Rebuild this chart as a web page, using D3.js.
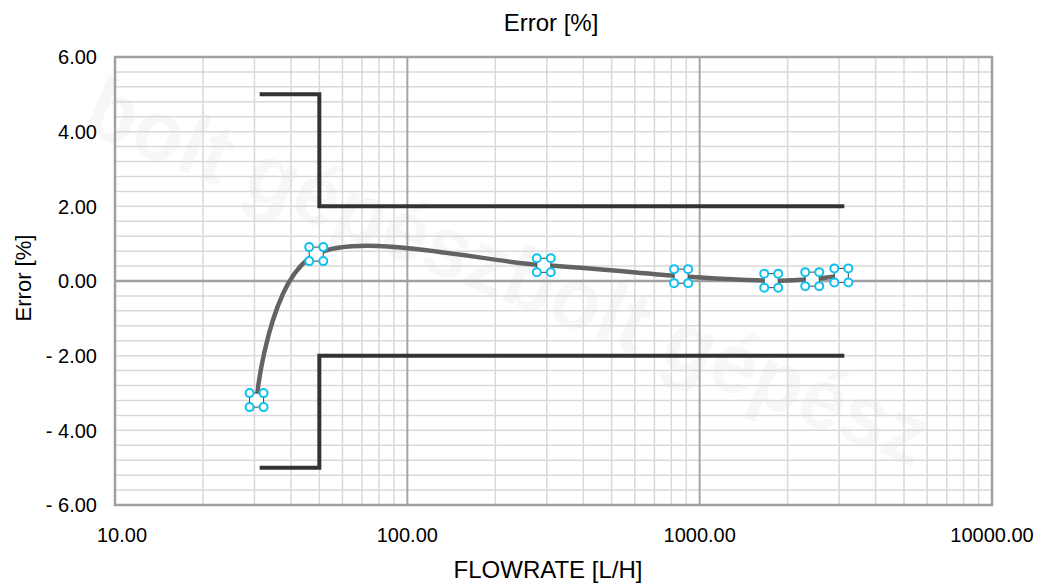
<!DOCTYPE html>
<html>
<head>
<meta charset="utf-8">
<script src="https://cdn.jsdelivr.net/npm/d3@7"></script>
<style>
  body { margin: 0; background: #fff; }
  svg { display: block; font-family: "Liberation Sans", Arial, sans-serif; }
</style>
</head>
<body>
<svg id="chart"></svg>
<script>
(function (d3) {
    'use strict';

    // measured points
    var flowRates = [30.5, 48.8, 293, 864, 1757, 2427, 3052];
    var errors = [-3.19, 0.72, 0.42, 0.13, 0.01, 0.05, 0.15];

    // error limits (MPE)
    var limitFlows = [31.25, 50, 50, 3125];
    var upperLimit = [5, 5, 2, 2];
    var lowerLimit = [-5, -5, -2, -2];

    var xTickValues = [10, 100, 1000, 10000];
    var yTickValues = [6, 4, 2, 0, -2, -4, -6];

    var width = 1043,
        height = 584,
        margin = { top: 57, right: 51, bottom: 79, left: 115 };

    var x = d3.scaleLog().domain([10, 10000]).range([margin.left, width - margin.right]),
        y = d3.scaleLinear().domain([-6, 6]).range([height - margin.bottom, margin.top]);

    var svg = d3.select('#chart')
        .attr('width', width)
        .attr('height', height);

    // faint background watermark
    svg.append('text')
        .attr('transform', 'translate(' + 80 + ',' + 130 + ') rotate(22)')
        .attr('font-size', 86)
        .attr('font-weight', 'bold')
        .attr('textLength', 900)
        .attr('lengthAdjust', 'spacingAndGlyphs')
        .attr('fill', '#000')
        .attr('fill-opacity', 0.03)
        .text('bolt gépészbolt gépész');

    var grid = svg.append('g');

    // horizontal minor grid every 0.4
    grid.selectAll('line.hgrid')
        .data(d3.range(-6, 6.001, 0.4))
        .enter()
        .append('line')
        .attr('class', 'hgrid')
        .attr('x1', x(10)).attr('x2', x(10000))
        .attr('y1', function (d) { return y(d); })
        .attr('y2', function (d) { return y(d); })
        .attr('stroke', '#d9d9d9')
        .attr('stroke-width', 1.5);

    // vertical minor grid (2..9 per decade)
    var minor = [];
    [10, 100, 1000].forEach(function (dec) {
        d3.range(2, 10).forEach(function (m) { minor.push(dec * m); });
    });
    grid.selectAll('line.vminor')
        .data(minor)
        .enter()
        .append('line')
        .attr('class', 'vminor')
        .attr('x1', function (d) { return x(d); })
        .attr('x2', function (d) { return x(d); })
        .attr('y1', y(6)).attr('y2', y(-6))
        .attr('stroke', '#d9d9d9')
        .attr('stroke-width', 1.5);

    grid.selectAll('line.vmajor')
        .data([100, 1000])
        .enter()
        .append('line')
        .attr('class', 'vmajor')
        .attr('x1', function (d) { return x(d); })
        .attr('x2', function (d) { return x(d); })
        .attr('y1', y(6)).attr('y2', y(-6))
        .attr('stroke', '#a6a6a6')
        .attr('stroke-width', 2);

    // zero axis line
    svg.append('line')
        .attr('x1', x(10)).attr('x2', x(10000))
        .attr('y1', y(0)).attr('y2', y(0))
        .attr('stroke', '#a0a0a0')
        .attr('stroke-width', 2.5);

    // plot frame
    svg.append('rect')
        .attr('x', x(10)).attr('y', y(6))
        .attr('width', x(10000) - x(10))
        .attr('height', y(-6) - y(6))
        .attr('fill', 'none')
        .attr('stroke', '#a0a0a0')
        .attr('stroke-width', 2.5);

    // y tick labels
    svg.append('g')
        .selectAll('text')
        .data(yTickValues)
        .enter()
        .append('text')
        .attr('x', margin.left - 18)
        .attr('y', function (d) { return y(d); })
        .attr('dy', '0.36em')
        .attr('text-anchor', 'end')
        .attr('font-size', 20)
        .attr('fill', '#000')
        .text(function (d) { return d < 0 ? '- ' + Math.abs(d).toFixed(2) : d.toFixed(2); });

    // x tick labels
    svg.append('g')
        .selectAll('text')
        .data(xTickValues)
        .enter()
        .append('text')
        .attr('x', function (d) { return x(d); })
        .attr('dx', function (d, i) { return i === 0 ? 7 : 0; })
        .attr('y', 542)
        .attr('text-anchor', 'middle')
        .attr('font-size', 20)
        .attr('fill', '#000')
        .text(function (d) { return d.toFixed(2); });

    // titles
    svg.append('text')
        .attr('x', 551).attr('y', 31)
        .attr('text-anchor', 'middle')
        .attr('font-size', 24)
        .text('Error [%]');

    svg.append('text')
        .attr('x', 548).attr('y', 578)
        .attr('text-anchor', 'middle')
        .attr('font-size', 24)
        .text('FLOWRATE [L/H]');

    svg.append('text')
        .attr('transform', 'translate(' + 31 + ',' + 278 + ') rotate(-90)')
        .attr('text-anchor', 'middle')
        .attr('font-size', 22)
        .text('Error [%]');

    // limit lines
    var limitLine = d3.line()
        .x(function (d) { return x(d[0]); })
        .y(function (d) { return y(d[1]); });

    [upperLimit, lowerLimit].forEach(function (lim) {
        svg.append('path')
            .datum(d3.zip(limitFlows, lim))
            .attr('d', limitLine)
            .attr('fill', 'none')
            .attr('stroke', '#333333')
            .attr('stroke-width', 4);
    });

    // smoothed error curve
    var points = d3.zip(flowRates, errors);
    var curveLine = d3.line()
        .x(function (d) { return x(d[0]); })
        .y(function (d) { return y(d[1]); })
        .curve(d3.curveCardinal.tension(0));

    svg.append('path')
        .datum(points)
        .attr('d', curveLine)
        .attr('fill', 'none')
        .attr('stroke', '#636363')
        .attr('stroke-width', 4.5);

    // markers: square with cyan corner handles
    var s = 7;
    var markers = svg.append('g')
        .selectAll('g')
        .data(points)
        .enter()
        .append('g')
        .attr('transform', function (d) { return 'translate(' + x(d[0]) + ',' + y(d[1]) + ')'; });

    markers.append('rect')
        .attr('x', -s).attr('y', -s)
        .attr('width', 2 * s).attr('height', 2 * s)
        .attr('fill', '#fff')
        .attr('stroke', '#404040')
        .attr('stroke-width', 1);

    markers.selectAll('circle')
        .data([[-s, -s], [s, -s], [-s, s], [s, s]])
        .enter()
        .append('circle')
        .attr('cx', function (d) { return d[0]; })
        .attr('cy', function (d) { return d[1]; })
        .attr('r', 4)
        .attr('fill', '#fff')
        .attr('stroke', '#10c0f0')
        .attr('stroke-width', 2);
})(window.d3);
</script>
</body>
</html>
